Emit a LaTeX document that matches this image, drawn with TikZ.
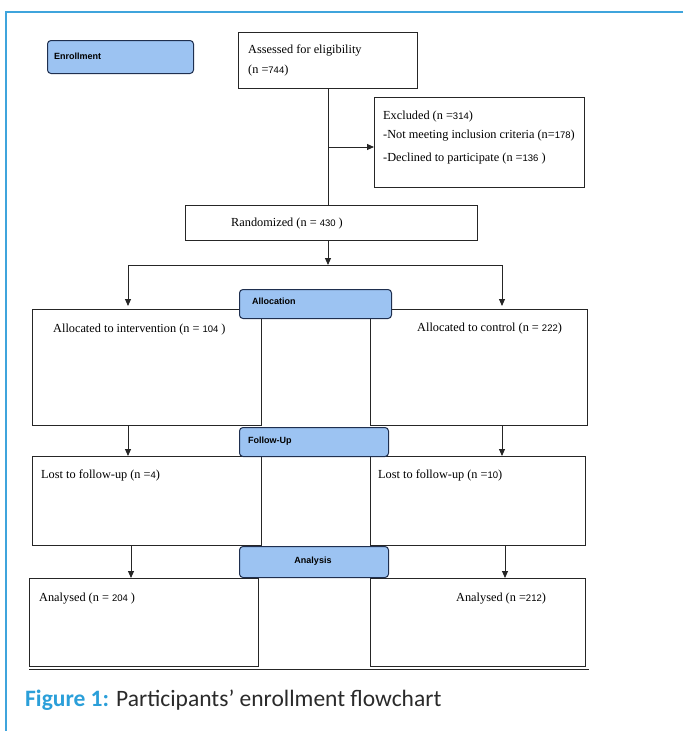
\documentclass[tikz,border=0pt]{standalone}
\usepackage{fontspec}
\setmainfont{Liberation Serif}
\newfontfamily\numf{Liberation Sans}
\newfontfamily\capf{Carlito}
\usetikzlibrary{arrows.meta}
\definecolor{frameblue}{HTML}{3FA4DC}
\definecolor{capblue}{HTML}{2B9FD9}
\definecolor{captext}{HTML}{2A2A2A}
\definecolor{stagefill}{HTML}{9CC3F2}
\definecolor{stageline}{HTML}{1F2F4F}
\newcommand{\nm}[1]{{\numf\fontsize{9.5}{11}\selectfont #1}}
\begin{document}
\begin{tikzpicture}[x=1pt,y=-1pt,
  box/.style={draw=black!85, line width=0.9pt, inner sep=0, anchor=north west},
  stage/.style={draw=stageline, fill=stagefill, rounded corners=3.5pt, line width=1pt, inner sep=0, anchor=north west},
  txt/.style={anchor=base west, inner sep=0, font=\fontsize{12.3}{14}\selectfont},
  stagetxt/.style={anchor=base west, inner sep=0, font=\numf\bfseries\fontsize{9}{10}\selectfont},
  arr/.style={-{Triangle[length=7pt,width=6pt]}, line width=0.9pt, black!85},
  conn/.style={line width=0.9pt, black!85}]
\useasboundingbox (0,0) rectangle (683,731);
% frame
\draw[frameblue, line width=1.2pt] (683,12) -- (6,12) -- (6,731);

% white boxes
\node[box, minimum width=179, minimum height=56] (assess) at (238,32) {};
\node[box, minimum width=210, minimum height=90] (excl) at (374,97) {};
\node[box, minimum width=292, minimum height=35] (rand) at (185,205) {};
\node[box, minimum width=229, minimum height=116] (intv) at (32,309) {};
\node[box, minimum width=217, minimum height=116] (ctrl) at (370,309) {};
\node[box, minimum width=229, minimum height=89] (lostl) at (32,456) {};
\node[box, minimum width=215, minimum height=89] (lostr) at (370,456) {};
\node[box, minimum width=229, minimum height=88] (anl) at (29,578) {};
\node[box, minimum width=215, minimum height=88] (anr) at (370,578) {};

% bottom rule
\coordinate (rulel) at (29,669);
\coordinate (ruler) at (589,669);
\draw[conn] (rulel) -- (ruler);

% connectors
\coordinate (exclj) at (328,147);
\coordinate (split) at (328,265);
\coordinate (splitl) at (128,265);
\coordinate (splitr) at (502,265);
\draw[conn] (assess.south -| exclj) -- (rand.north -| exclj);
\draw[arr] (exclj) -- (excl.west |- exclj);
\draw[arr] (rand.south -| split) -- (split);
\draw[conn] (splitl) -- (splitr);
\draw[arr, shorten >=3pt] (splitl) -- (intv.north -| splitl);
\draw[arr, shorten >=3pt] (splitr) -- (ctrl.north -| splitr);
\coordinate (fl) at (128,0);
\coordinate (fr) at (502,0);
\draw[arr] (intv.south -| fl) -- (lostl.north -| fl);
\draw[arr] (ctrl.south -| fr) -- (lostr.north -| fr);
\coordinate (al) at (131,0);
\coordinate (ar) at (505,0);
\draw[arr] (lostl.south -| al) -- (anl.north -| al);
\draw[arr] (lostr.south -| ar) -- (anr.north -| ar);

% stage boxes
\node[stage, minimum width=146, minimum height=33] (enrol) at (47,40) {};
\node[stage, minimum width=152, minimum height=29] (alloc) at (239,289) {};
\node[stage, minimum width=149, minimum height=29] (follow) at (239,427) {};
\node[stage, minimum width=149, minimum height=31] (analys) at (239,546) {};
\node[stagetxt] (tenrol) at (54,59) {Enrollment};
\node[stagetxt] (talloc) at (252,304) {Allocation};
\node[stagetxt] (tfollow) at (248,443) {Follow-Up};
\node[stagetxt, anchor=base] (tanalys) at (313,563) {Analysis};

% texts
\node[txt] (ta1) at (248,53) {Assessed for eligibility};
\node[txt] (ta2) at (248,73) {(n =\nm{744})};
\node[txt] (te1) at (383,119) {Excluded (n =\nm{314})};
\node[txt] (te2) at (383,138) {-Not meeting inclusion criteria (n=\nm{178})};
\node[txt] (te3) at (383,161) {-Declined to participate (n =\nm{136} )};
\node[txt] (tr) at (231,226) {Randomized (n = \nm{430} )};
\node[txt] (ti) at (53,332) {Allocated to intervention (n = \nm{104} )};
\node[txt] (tc) at (417,331) {Allocated to control (n = \nm{222})};
\node[txt] (tll) at (41,478) {Lost to follow-up (n =\nm{4})};
\node[txt] (tlr) at (378,478) {Lost to follow-up (n =\nm{10})};
\node[txt] (tal) at (39,601) {Analysed (n = \nm{204} )};
\node[txt] (tar) at (456,601) {Analysed (n =\nm{212})};

% caption
\node[anchor=base west, inner sep=0, font=\capf\fontsize{23.5}{26}\selectfont, text=captext] (cap) at (25,706)
  {\textcolor{capblue}{\bfseries Figure 1:} Participants’ enrollment flowchart};
\end{tikzpicture}
\end{document}
